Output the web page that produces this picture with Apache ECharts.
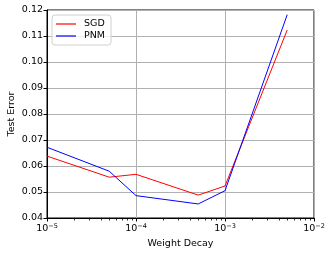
<!DOCTYPE html>
<html><head><meta charset="utf-8">
<script src="https://cdn.jsdelivr.net/npm/echarts@6/dist/echarts.min.js"></script>
<style>html,body{margin:0;padding:0;background:#fff}#c{width:333px;height:255px}</style>
</head><body><div id="c"></div>
<script>
const weightDecay = [1e-5, 5e-5, 1e-4, 5e-4, 1e-3, 5e-3];
const sgdError = [0.0638, 0.0557, 0.0568, 0.0488, 0.0523, 0.1123];
const pnmError = [0.0672, 0.0580, 0.0486, 0.0454, 0.0505, 0.1182];
const xMin = 1e-5, xMax = 1e-2;
const yMin = 0.04, yMax = 0.12, yStep = 0.01;
const minorTickValues = [];
for (let e = -5; e < -2; e++) for (let m = 2; m <= 9; m++) minorTickValues.push(m * Math.pow(10, e));

const font = 'DejaVu Sans';
const fs = 9.5;
const chart = echarts.init(document.getElementById('c'), null, {renderer: 'canvas'});
chart.setOption({
  animation: false,
  textStyle: {fontFamily: font},
  grid: {left: 47, right: 19, top: 10, bottom: 37, containLabel: false, outerBoundsMode: 'none', show: true, borderColor: '#000', borderWidth: 1, backgroundColor: 'transparent'},
  legend: {
    orient: 'vertical', left: 52, top: 15,
    data: ['SGD', 'PNM'],
    icon: 'rect', itemWidth: 20, itemHeight: 1.2, itemGap: 2,
    padding: [4, 6, 4, 4],
    borderColor: '#d0d0d0', borderWidth: 1, borderRadius: 3,
    backgroundColor: 'rgba(255,255,255,0.8)',
    textStyle: {fontFamily: font, fontSize: fs, color: '#000', padding: [0, 0, 0, 3]}
  },
  xAxis: {
    type: 'log', logBase: 10, min: xMin, max: xMax,
    name: 'Weight Decay', nameLocation: 'middle', nameGap: 21, nameMoveOverlap: false,
    nameTextStyle: {fontFamily: font, fontSize: fs, color: '#000'},
    axisLine: {show: true, onZero: false, lineStyle: {color: '#000', width: 1}},
    axisTick: {show: true, inside: false, length: 3.5, lineStyle: {color: '#000'}},
    splitLine: {show: true, lineStyle: {color: '#b0b0b0', width: 1}},
    axisLabel: {
      margin: 5, color: '#000',
      formatter: v => '{b|10}{e|\u2212' + Math.abs(Math.round(Math.log10(v))) + '}',
      rich: {b: {fontFamily: font, fontSize: fs, color: '#000'}, e: {fontFamily: font, fontSize: 6.5, color: '#000', verticalAlign: 'top', padding: [0, 0, 5, 0]}}
    }
  },
  yAxis: {
    type: 'value', min: yMin, max: yMax, interval: yStep,
    name: 'Test Error', nameLocation: 'middle', nameGap: 30, nameMoveOverlap: false,
    nameTextStyle: {fontFamily: font, fontSize: fs, color: '#000'},
    axisLine: {show: true, onZero: false, lineStyle: {color: '#000', width: 1}},
    axisTick: {show: true, length: 3.5, lineStyle: {color: '#000'}},
    splitLine: {show: true, lineStyle: {color: '#b0b0b0', width: 1}},
    axisLabel: {margin: 4, color: '#000', fontFamily: font, fontSize: fs, formatter: v => v.toFixed(2)}
  },
  series: [
    {name: 'SGD', type: 'line', data: weightDecay.map((x, i) => [x, sgdError[i]]), symbol: 'none', showSymbol: false, lineStyle: {color: '#ff0000', width: 1}, itemStyle: {color: '#ff0000'}, z: 3},
    {name: 'PNM', type: 'line', data: weightDecay.map((x, i) => [x, pnmError[i]]), symbol: 'none', showSymbol: false, lineStyle: {color: '#0000ff', width: 1}, itemStyle: {color: '#0000ff'}, z: 4},
    {
      type: 'custom', silent: true, clip: false, z: 5,
      data: minorTickValues.map(v => [v, yMin]),
      renderItem: (params, api) => {
        const p = api.coord([api.value(0), api.value(1)]);
        return {type: 'line', shape: {x1: Math.round(p[0]) + 0.5, y1: p[1], x2: Math.round(p[0]) + 0.5, y2: p[1] + 2.5}, style: {stroke: '#000', lineWidth: 0.8}};
      }
    }
  ]
});
</script></body></html>
